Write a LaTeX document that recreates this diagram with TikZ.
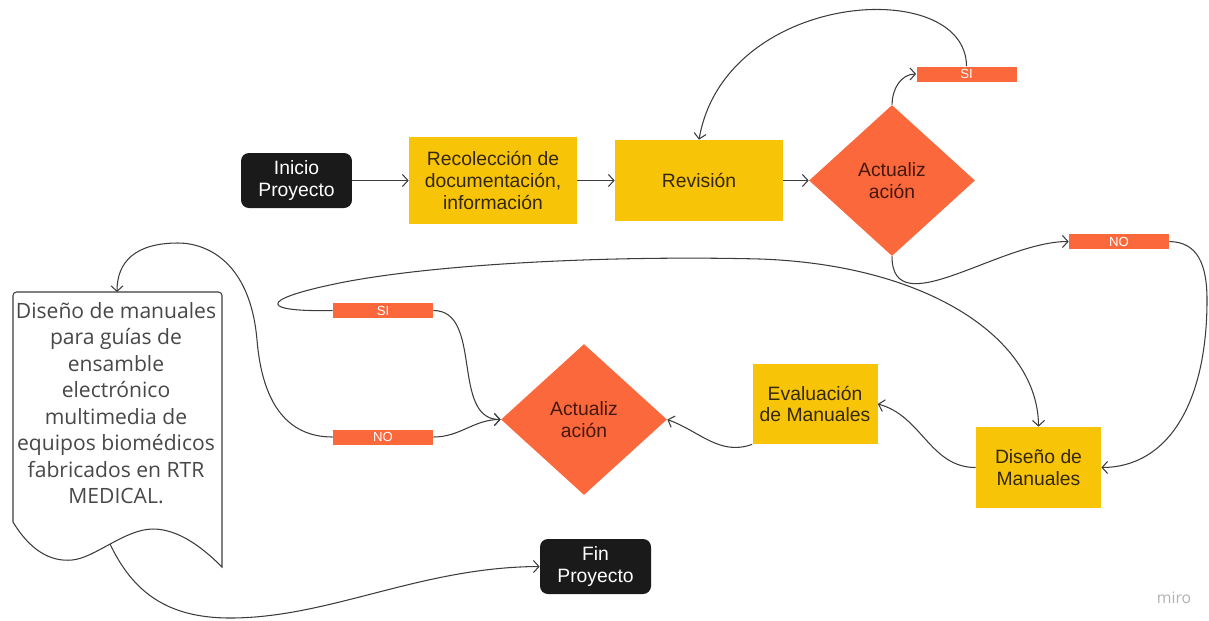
\documentclass[tikz,border=0pt]{standalone}
\usepackage{fontspec}
\setmainfont{Liberation Sans}
\newfontfamily\docfont{Open Sans}
\usetikzlibrary{arrows.meta,shapes.geometric}

\definecolor{boxyellow}{RGB}{248,196,8}
\definecolor{decorange}{RGB}{250,104,60}
\definecolor{termblack}{RGB}{26,26,26}
\definecolor{linegray}{RGB}{60,60,60}
\definecolor{tasktext}{RGB}{52,40,12}
\definecolor{dectext}{RGB}{70,24,12}
\definecolor{doctext}{RGB}{72,72,72}

\tikzset{
  term/.style={fill=termblack, rounded corners=4.5pt, text=white, align=center,
    minimum width=2.22cm, minimum height=1.1cm, inner sep=0pt,
    font=\fontsize{11}{12.4}\selectfont},
  task/.style={fill=boxyellow, text=tasktext, align=center, inner sep=0pt,
    font=\fontsize{11}{12.4}\selectfont},
  decision/.style={diamond, fill=decorange, text=dectext, align=center, inner sep=0pt,
    minimum width=3.32cm, minimum height=3.02cm, font=\fontsize{11}{12.4}\selectfont},
  answer/.style={fill=decorange, text=white, inner sep=0pt,
    minimum width=2cm, minimum height=0.3cm, font=\fontsize{7.5}{8}\selectfont},
  flow/.style={draw=linegray, line width=0.6pt, -{Straight Barb[length=1.1mm,width=2.4mm]}},
  docline/.style={draw=linegray, line width=0.6pt, fill=white},
}

\begin{document}
\begin{tikzpicture}[x=0.02cm, y=-0.02cm]
  \useasboundingbox (0,0) rectangle (1209,620);

  \node[term] (ini) at (296.5,180.5) {Inicio\\Proyecto};
  \node[task, minimum width=3.36cm, minimum height=1.74cm] (rec) at (493,180.5) {Recolección de\\documentación,\\información};
  \node[task, minimum width=3.36cm, minimum height=1.62cm] (rev) at (699,180.5) {Revisión};
  \node[decision] (dec1) at (892,180.5) {Actualiz\\ación};
  \node[answer] (si1) at (966.5,74) {SI};
  \node[answer] (no1) at (1119,241.5) {NO};

  \node[task, minimum width=2.5cm, minimum height=1.62cm] (dman) at (1038.5,467.5) {Diseño de\\Manuales};
  \node[task, minimum width=2.5cm, minimum height=1.6cm] (eval) at (815,404) {Evaluación\\de Manuales};
  \node[decision] (dec2) at (584,419.5) {Actualiz\\ación};
  \node[answer] (si2) at (383,310.5) {SI};
  \node[answer] (no2) at (383,437) {NO};
  \node[term] (fin) at (595.5,566.5) {Fin\\Proyecto};

  \draw[docline] (13,522) {[rounded corners=2pt] -- (13,292) -- (222,292)} -- (222,567)
    .. controls (205,550) and (180,529) .. (153,529)
    .. controls (125,529) and (95,558) .. (72,560)
    .. controls (50,562) and (30,550) .. (13,522) -- cycle;
  \node[font=\docfont\fontsize{12}{15.1}\selectfont, text=doctext, align=center] (doc) at (116,403)
    {Diseño de manuales\\para guías de\\ensamble\\electrónico\\multimedia de\\equipos biomédicos\\fabricados en RTR\\MEDICAL.};
  \coordinate (doctop) at (117,292);
  \coordinate (docbot) at (110,544);

  \node[font=\docfont\fontsize{9}{10}\selectfont, text=gray!60] (miro) at (1174,598) {miro};

  \draw[flow] (ini) -- (rec);
  \draw[flow] (rec) -- (rev);
  \draw[flow] (rev) -- (dec1);
  \draw[flow] (dec1.north) to[out=90, in=180] (si1.west);
  \draw[flow] (si1.north) .. controls (966,-25) and (725,-10) .. (rev.north);
  \draw[flow] (dec1.south) to[out=-90, in=180] (no1.west);
  \draw[flow] (no1.east) .. controls (1198,242) and (1207,265) .. (1207,300)
    .. controls (1207,400) and (1170,467) .. (dman.east);
  \draw[flow] (dman.west) to[out=180, in=-15] (eval.east);
  \draw[flow] (eval.south west) to[out=-160, in=-20] (dec2.east);
  \draw[flow] (si2.east) to[out=0, in=180] (dec2.west);
  \draw[flow] (no2.east) to[out=0, in=180] (dec2.west);
  \draw[flow] (si2.west) .. controls (260,312) and (260,300) .. (330,285)
    .. controls (420,265) and (600,255) .. (760,259)
    .. controls (930,265) and (1038,340) .. (dman.north);
  \draw[flow] (no2.west) .. controls (285,437) and (262,400) .. (257,340)
    .. controls (250,260) and (205,243) .. (178,243)
    .. controls (135,243) and (117,262) .. (doctop);
  \draw[flow] (docbot) .. controls (132,590) and (165,618) .. (230,618)
    .. controls (330,618) and (420,567) .. (fin.west);
\end{tikzpicture}
\end{document}
